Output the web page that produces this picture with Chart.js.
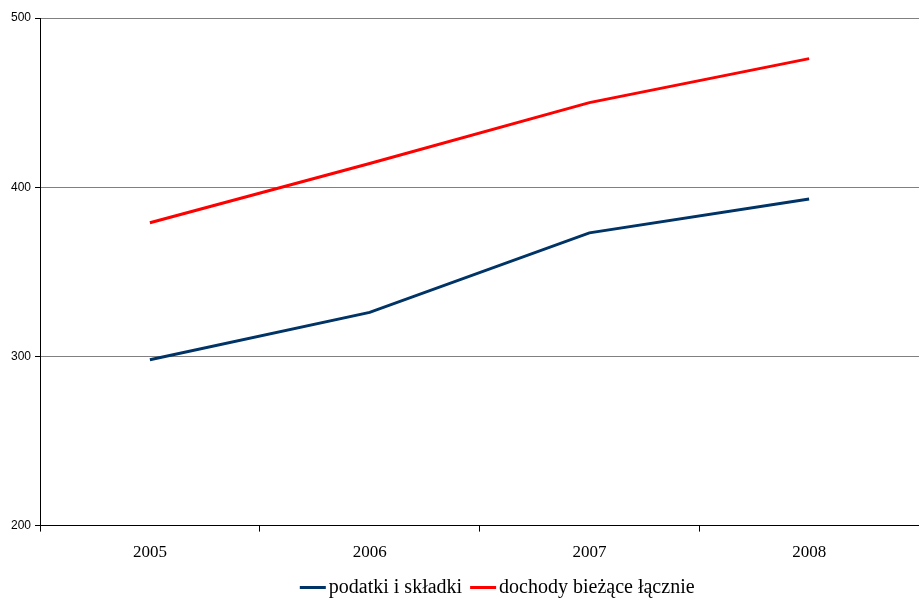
<!DOCTYPE html>
<html>
<head>
<meta charset="utf-8">
<script src="https://cdn.jsdelivr.net/npm/chart.js@4.4.1/dist/chart.umd.min.js"></script>
<style>
  html, body { margin: 0; padding: 0; background: #fff; }
  #wrap { width: 919px; height: 600px; }
</style>
</head>
<body>
<div id="wrap"><canvas id="myChart"></canvas></div>
<script>
const years = ["2005", "2006", "2007", "2008"];
const podatki = [298, 326, 373, 393];
const dochody = [379, 414, 450, 476];
const yTicks = [200, 300, 400, 500];

// legend drawn by hand: line sample close to the text, like the original
const bottomLegend = {
  id: "bottomLegend",
  afterDraw(chart) {
    const ctx = chart.ctx;
    const lineW = 26, gap = 3, itemGap = 8;
    ctx.save();
    ctx.font = "20px 'Liberation Serif'";
    const items = chart.data.datasets.map((ds) => ({
      text: ds.label,
      color: ds.borderColor,
      w: lineW + gap + ctx.measureText(ds.label).width,
    }));
    const total = items.reduce((s, it) => s + it.w, 0) + itemGap * (items.length - 1);
    let x = chart.width * 0.541 - total / 2;
    const y = chart.height - 12;
    ctx.textBaseline = "middle";
    ctx.textAlign = "left";
    items.forEach((it) => {
      ctx.fillStyle = it.color;
      ctx.fillRect(x, y - 2, lineW, 3);
      ctx.fillStyle = "#000";
      ctx.fillText(it.text, x + lineW + gap, y);
      x += it.w + itemGap;
    });
    ctx.restore();
  },
};

new Chart(document.getElementById("myChart"), {
  type: "line",
  data: {
    labels: years,
    datasets: [
      {
        label: "podatki i składki",
        data: podatki,
        borderColor: "#003366",
        backgroundColor: "#003366",
        borderWidth: 3,
        pointRadius: 0,
        tension: 0,
      },
      {
        label: "dochody bieżące łącznie",
        data: dochody,
        borderColor: "#ff0000",
        backgroundColor: "#ff0000",
        borderWidth: 3,
        pointRadius: 0,
        tension: 0,
      },
    ],
  },
  options: {
    responsive: true,
    maintainAspectRatio: false,
    animation: false,
    layout: { padding: { top: 18, right: 0, left: 7, bottom: 26 } },
    plugins: {
      tooltip: { enabled: false },
      legend: { display: false },
    },
    scales: {
      x: {
        offset: true,
        grid: {
          offset: true,
          drawOnChartArea: false,
          tickLength: 6,
          tickColor: "#000",
        },
        border: { color: "#000", width: 1 },
        ticks: {
          color: "#000",
          padding: 11,
          font: { family: "Liberation Serif", size: 17 },
        },
      },
      y: {
        min: 200,
        max: 500,
        afterBuildTicks: (axis) => {
          axis.ticks = yTicks.map((v) => ({ value: v }));
        },
        grid: {
          color: "#808080",
          tickColor: "#000",
          tickLength: 5,
        },
        border: { color: "#000", width: 1 },
        ticks: {
          color: "#000",
          padding: 4,
          font: { family: "Liberation Sans", size: 12 },
        },
      },
    },
  },
  plugins: [bottomLegend],
});
</script>
</body>
</html>
